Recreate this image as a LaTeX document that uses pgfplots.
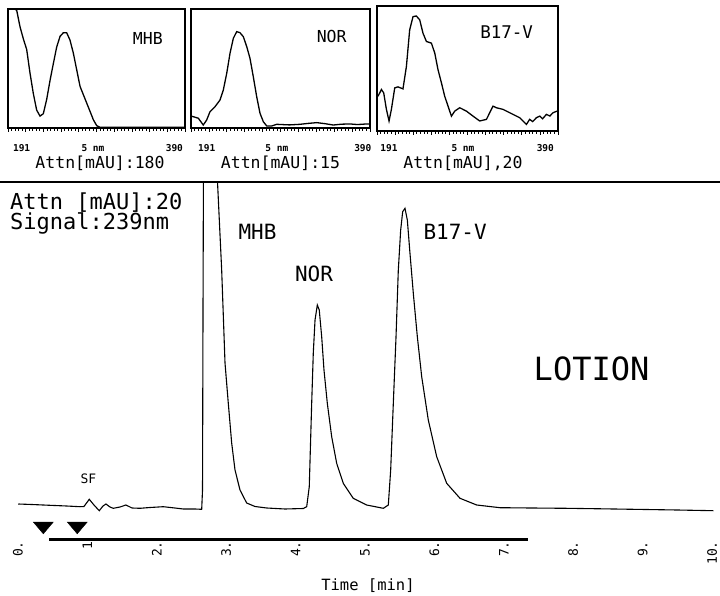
\documentclass[border=0pt]{standalone}
\usepackage{fontspec}
\setmainfont{DejaVu Sans}
\setmonofont{DejaVu Sans Mono}
\usepackage{pgfplots}
\pgfplotsset{compat=1.18}

\newcommand{\fs}[1]{\fontsize{#1}{#1}\selectfont\ttfamily}

\pgfplotsset{
  inset/.style={scale only axis, anchor=south west,
    xmin=190, xmax=390, ymin=0, ymax=100, clip=false,
    axis line style={line width=1.1pt},
    xtick={190,210,...,390}, minor x tick num=4, xticklabels={,,}, ytick=\empty,
    xtick pos=bottom, tick align=outside,
    major tick length=4pt, minor tick length=3pt,
    tick style={line width=0.8pt, black}},
  spec/.style={line width=1.3pt, black},
}

\begin{document}
\begin{tikzpicture}
\useasboundingbox (0,0) rectangle (720pt,595pt);

% --- spectrum insets ---
\begin{axis}[inset, at={(8pt,467pt)}, width=177pt, height=119pt]
\addplot[spec] coordinates {
(197.5,100) (199.8,99) (203.6,85) (207.3,75) (211.1,66) (214.9,46) (218.6,29)
(222.4,15) (226.2,10) (229.9,12) (233.7,24) (237.5,40) (241.2,54) (245,68)
(248.8,77) (252.5,80) (256.3,80) (260,74) (263.8,63) (267.6,49) (271.4,35)
(278.9,21) (286.4,7) (290.2,2) (293.9,0.6) (390,0.6)};
\node[font={\fs{16.5}}] at (axis cs:348,75.6) {MHB};
\node[font={\fs{9.5}\bfseries}] at (rel axis cs:0.077,-0.168) {191};
\node[font={\fs{9.5}\bfseries}] at (rel axis cs:0.48,-0.168) {5 nm};
\node[font={\fs{9.5}\bfseries}] at (rel axis cs:0.94,-0.168) {390};
\node[font={\fs{16.5}}] at (rel axis cs:0.52,-0.294) {Attn[mAU]:180};
\end{axis}

\begin{axis}[inset, at={(191pt,467pt)}, width=179pt, height=119pt]
\addplot[spec] coordinates {
(190,10) (192.6,9.5) (198.2,8.2) (203.7,2.5) (207.5,6.7) (211.2,13.7) (216.8,17.9)
(222.4,23.5) (226.1,31.9) (229.9,45.9) (233.6,62.8) (237.3,75.4) (241.1,81)
(244.7,80.1) (248.5,76.7) (252.3,68.3) (255.9,58.6) (259.6,43.1) (263.4,26.3)
(267.1,12.4) (270.8,5.3) (274.6,1.7) (280.1,1.7) (285.7,3.1) (300,2.6) (311.8,3.1)
(320,3.8) (330.4,4.5) (340,3.6) (349,2.5) (358,3.2) (367.6,3.4) (376,2.9) (386.3,3.4) (390,3.3)};
\node[font={\fs{16.5}}] at (axis cs:347.2,76.5) {NOR};
\node[font={\fs{9.5}\bfseries}] at (rel axis cs:0.088,-0.168) {191};
\node[font={\fs{9.5}\bfseries}] at (rel axis cs:0.48,-0.168) {5 nm};
\node[font={\fs{9.5}\bfseries}] at (rel axis cs:0.96,-0.168) {390};
\node[font={\fs{16.5}}] at (rel axis cs:0.5,-0.294) {Attn[mAU]:15};
\end{axis}

\begin{axis}[inset, at={(377pt,464pt)}, width=181pt, height=125pt]
\addplot[spec] coordinates {
(191.1,27.8) (194.9,33.2) (197.4,30.5) (200.4,17.3) (203.3,8) (205.9,17.3)
(209.6,34.5) (213.2,35.3) (218.7,33.7) (222.5,51.7) (226.1,80.9) (229.8,91.5)
(233.5,92) (237.2,88.9) (240.8,78.3) (244.6,71.6) (250.1,70.3) (253.8,62.4)
(257.4,49.1) (261.2,38.5) (264.8,27.8) (268.5,19.9) (272.2,11.9) (275.9,15.9)
(281.4,18.6) (288.8,15.9) (296.1,11.9) (303.5,8) (310.9,9.3) (318.2,19.9)
(321.9,18.6) (329.2,17.3) (340.3,13.3) (347.7,10.6) (355.1,5.3) (358.7,9.3)
(362,7.5) (366.1,10.6) (369.8,11.9) (373,9.8) (377.2,13.3) (381,12) (384.5,14.6) (388.9,15.9)};
\node[font={\fs{17.5}}] at (axis cs:333.3,78.8) {B17-V};
\node[font={\fs{9.5}\bfseries}] at (rel axis cs:0.066,-0.136) {191};
\node[font={\fs{9.5}\bfseries}] at (rel axis cs:0.475,-0.136) {5 nm};
\node[font={\fs{9.5}\bfseries}] at (rel axis cs:0.93,-0.136) {390};
\node[font={\fs{16.5}}] at (rel axis cs:0.475,-0.256) {Attn[mAU],20};
\end{axis}

% --- chromatogram ---
\begin{axis}[at={(0pt,56pt)}, anchor=south west, scale only axis,
  width=720pt, height=357pt,
  xmin=-0.259, xmax=10.115, ymin=-29, ymax=328, clip=false,
  axis line style={draw=none}, ytick=\empty,
  xtick={0,...,10}, xticklabels={0.,1,2.,3.,4.,5.,6.,7.,8.,9.,10.},
  xtick pos=bottom, major tick length=0pt, tick style={draw=none},
  xticklabel style={rotate=90, anchor=east, font={\fs{13}}, inner sep=2pt}]
\addplot[line width=1.4pt, black] coordinates {(-0.259,328) (10.115,328)};
\addplot[line width=1.1pt, black] coordinates {
(0.004,6) (0.2,5.5) (0.461,4.7) (0.7,4) (0.893,3.3) (0.951,3.5) (1.027,10.7)
(1.095,5) (1.171,-0.7) (1.225,4) (1.268,6) (1.326,3) (1.373,1.7) (1.470,3)
(1.556,5) (1.643,2) (1.758,1.7) (1.902,2.5) (2.094,3.3) (2.262,2) (2.382,1)
(2.55,1) (2.647,0.7) (2.659,20) (2.666,200) (2.672,328) (2.875,328)
(2.935,240) (2.983,147) (3.030,107) (3.079,67) (3.127,40) (3.199,20) (3.295,7)
(3.415,3.5) (3.584,2) (3.847,1) (4.111,1.5) (4.160,3.3) (4.197,23.3) (4.232,107)
(4.255,157) (4.280,190) (4.313,205) (4.341,200) (4.376,173.3) (4.409,140)
(4.457,106.7) (4.520,73.3) (4.592,46.7) (4.687,26.7) (4.831,11.7) (5.024,5)
(5.264,1.7) (5.336,5) (5.370,40) (5.408,106.7) (5.447,173.3) (5.480,240)
(5.514,280) (5.543,298.3) (5.576,301.7) (5.610,290) (5.648,256.7) (5.696,216.7)
(5.754,173.3) (5.817,133.3) (5.912,90) (6.033,53.3) (6.177,26.7) (6.369,11.7)
(6.609,5) (6.945,2.3) (7.4,2) (7.906,1.7) (8.4,1.2) (8.866,0.7) (9.5,0) (10.019,-0.7)};
\addplot[line width=3pt, black] coordinates {(0.451,-29) (7.349,-29)};
\addplot[only marks, mark=triangle*, mark size=11.5pt,
  mark options={rotate=180, yscale=0.68, fill=black, draw=black}]
  coordinates {(0.365,-16) (0.854,-16)};
\node[font={\fs{22}}, anchor=base west, inner sep=0pt] at (axis cs:-0.115,300) {Attn [mAU]:20};
\node[font={\fs{22}}, anchor=base west, inner sep=0pt] at (axis cs:-0.115,280) {Signal:239nm};
\node[font={\fs{21}}, anchor=base, inner sep=0pt] at (axis cs:3.451,270) {MHB};
\node[font={\fs{21}}, anchor=base, inner sep=0pt] at (axis cs:4.265,228.3) {NOR};
\node[font={\fs{21}}, anchor=base west, inner sep=0pt] at (axis cs:5.84,270) {B17-V};
\node[font={\fs{32}}, anchor=base, inner sep=0pt] at (axis cs:8.264,130) {LOTION};
\node[font={\fs{13}}, anchor=base, inner sep=0pt] at (axis cs:1.016,27) {SF};
\node[font={\fs{15.5}}, anchor=base, inner sep=0pt] at (axis cs:5.043,-80) {Time [min]};
\end{axis}
\end{tikzpicture}
\end{document}
